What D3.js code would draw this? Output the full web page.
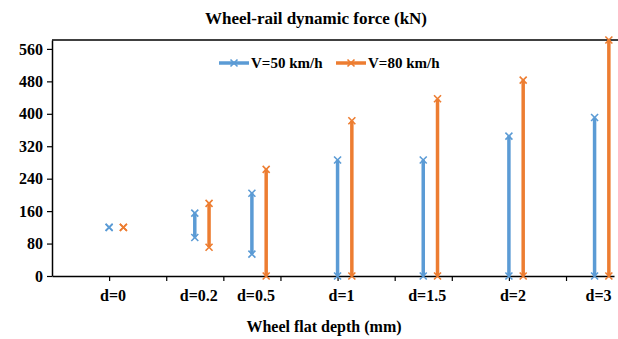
<!DOCTYPE html>
<html>
<head>
<meta charset="utf-8">
<script src="https://cdn.jsdelivr.net/npm/d3@7/dist/d3.min.js"></script>
<style>
	body { margin: 0; background: #fff; }
	svg text { font-family: "Liberation Serif", "Times New Roman", serif; font-weight: bold; fill: #000; }
</style>
</head>
<body>
<svg id="chart" width="618" height="339"></svg>
<script>
// categories and where each sits on the (irregular) category axis
var categories = ['d=0', 'd=0.2', 'd=0.5', 'd=1', 'd=1.5', 'd=2', 'd=3'];
var slots = [1, 2.5, 3.5, 5, 6.5, 8, 9.5];

// min / max of the dynamic force, kN
var v50Min = [120, 95, 54, 0, 0, 0, 0];
var v50Max = [120, 155, 204, 286, 286, 345, 391];
var v80Min = [120, 71, 0, 0, 0, 0, 0];
var v80Max = [120, 179, 263, 383, 437, 483, 582];

var yTicks = [0, 80, 160, 240, 320, 400, 480, 560];
var seriesNames = ['V=50 km/h', 'V=80 km/h'];
var seriesColours = ['#5b9bd5', '#ed7d31'];

var svg = d3.select('#chart');
var plotLeft = 52, plotRight = 614, plotTop = 40, plotBottom = 276;

var x = d3.scaleLinear().domain([0, 9.84]).range([plotLeft, plotRight]);
var y = d3.scaleLinear().domain([0, 582]).range([plotBottom, plotTop]);

// top border
svg.append('line')
	.attr('x1', plotLeft).attr('x2', 618)
	.attr('y1', plotTop).attr('y2', plotTop)
	.attr('stroke', '#000').attr('stroke-width', 1.5);

// y axis
var yAxis = svg.append('g')
	.attr('transform', 'translate(' + plotLeft + ',0)')
	.call(d3.axisLeft(y).tickValues(yTicks).tickSize(5).tickSizeOuter(0));
yAxis.select('.domain').attr('stroke', '#000').attr('stroke-width', 1.5);
yAxis.selectAll('.tick line').attr('stroke', '#000').attr('stroke-width', 1.2);
yAxis.selectAll('.tick text')
	.attr('x', -9)
	.attr('font-size', 16)
	.attr('font-family', '"Liberation Serif", serif')
	.attr('font-weight', 'bold');

// x axis, ticks between slots
var xAxis = svg.append('g')
	.attr('transform', 'translate(0,' + plotBottom + ')')
	.call(d3.axisBottom(x).tickValues(d3.range(1, 10)).tickFormat('').tickSize(5).tickSizeOuter(0));
xAxis.select('.domain').attr('stroke', '#000').attr('stroke-width', 1.5);
xAxis.selectAll('.tick line').attr('stroke', '#000').attr('stroke-width', 1.2);

svg.append('g').selectAll('text')
	.data(categories)
	.enter().append('text')
	.attr('x', (d, i) => x(slots[i]) + 4)
	.attr('y', 301)
	.attr('text-anchor', 'middle')
	.attr('font-size', 16)
	.text(d => d);

// series: vertical min-max lines with x markers at the ends
var series = [
	{name: seriesNames[0], colour: seriesColours[0], min: v50Min, max: v50Max, shift: 0},
	{name: seriesNames[1], colour: seriesColours[1], min: v80Min, max: v80Max, shift: 0.25}
];

function marker(g, cx, cy, colour)
{
	var s = 3.5;
	g.append('path')
		.attr('d', 'M' + (cx - s) + ',' + (cy - s) + 'L' + (cx + s) + ',' + (cy + s) +
			'M' + (cx - s) + ',' + (cy + s) + 'L' + (cx + s) + ',' + (cy - s))
		.attr('stroke', colour).attr('stroke-width', 1.6).attr('fill', 'none');
}

series.forEach(s => {
	var g = svg.append('g');
	categories.forEach((c, i) => {
		var cx = x(slots[i] + s.shift);
		g.append('line')
			.attr('x1', cx).attr('x2', cx)
			.attr('y1', y(s.min[i])).attr('y2', y(s.max[i]))
			.attr('stroke', s.colour).attr('stroke-width', 3.5);
		marker(g, cx, y(s.min[i]), s.colour);
		marker(g, cx, y(s.max[i]), s.colour);
	});
});

// legend
var legend = svg.append('g').attr('transform', 'translate(0,63)');
var legendX = [219, 336];
series.forEach((s, i) => {
	legend.append('line')
		.attr('x1', legendX[i]).attr('x2', legendX[i] + 30)
		.attr('stroke', s.colour).attr('stroke-width', 3.5);
	marker(legend, legendX[i] + 15, 0, s.colour);
	legend.append('text')
		.attr('x', legendX[i] + 32)
		.attr('y', 5)
		.attr('font-size', 15)
		.text(s.name);
});

// titles
svg.append('text')
	.attr('x', 316).attr('y', 24)
	.attr('text-anchor', 'middle')
	.attr('font-size', 17)
	.text('Wheel-rail dynamic force (kN)');

svg.append('text')
	.attr('x', 324).attr('y', 332)
	.attr('text-anchor', 'middle')
	.attr('font-size', 16)
	.text('Wheel flat depth (mm)');
</script>
</body>
</html>
